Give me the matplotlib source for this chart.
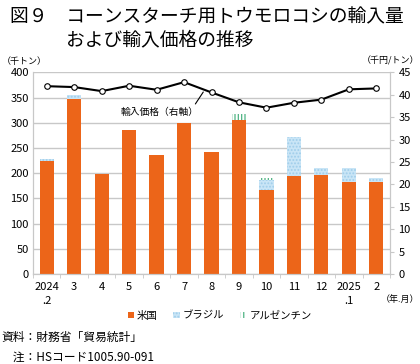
import numpy as np
import matplotlib.pyplot as plt
from matplotlib.patches import Patch

plt.rcParams['font.family'] = ['Noto Sans CJK JP', 'DejaVu Sans']
plt.rcParams['hatch.linewidth'] = 0.9

# データ（千トン、千円/トン）
months = ['2024\n.2', '3', '4', '5', '6', '7', '8', '9', '10', '11', '12', '2025\n.1', '2']
usa = [225, 348, 199, 286, 236, 300, 242, 305, 167, 195, 196, 183, 183]
brazil = [4, 6, 0, 0, 0, 0, 0, 0, 19, 77, 15, 27, 8]
argentina = [0, 0, 0, 0, 0, 0, 0, 13, 4, 0, 0, 0, 0]
price = [41.9, 41.7, 40.8, 42.0, 41.1, 42.8, 40.5, 38.3, 37.1, 38.2, 38.9, 41.2, 41.4]

orange = '#ec6519'
blue = '#c9e5f6'
blue_dot = '#9fcdea'
green = '#4fb383'
grid_c = '#c8c8c8'

fig = plt.figure(figsize=(4.2, 3.64), dpi=100)
ax = fig.add_axes([0.0786, 0.2473, 0.85, 0.5541])
ax2 = ax.twinx()

x = np.arange(len(months))
w = 0.52
usa = np.array(usa)
brazil = np.array(brazil)
argentina = np.array(argentina)

ax.bar(x, usa, w, color=orange, zorder=2)
ax.bar(x, brazil, w, bottom=usa, facecolor=blue, edgecolor=blue_dot,
       hatch='.....', linewidth=0, zorder=2)
ax.bar(x, argentina, w, bottom=usa + brazil, facecolor='white', edgecolor=green,
       hatch='|||||', linewidth=0, zorder=2)

ax.set_xlim(-0.5, len(months) - 0.5)
ax.set_ylim(0, 400)
ax.set_yticks(range(0, 401, 50))
ax.yaxis.grid(True, color=grid_c, linewidth=1)
ax.set_axisbelow(True)
ax.set_xticks(x)
ax.set_xticklabels(months, fontsize=8, linespacing=1.5)
ax.set_xticks(np.arange(-0.5, len(months), 1), minor=True)
ax.tick_params(axis='x', which='major', length=0, pad=6)
ax.tick_params(axis='x', which='minor', length=3, color=grid_c)
ax.tick_params(axis='y', length=0, labelsize=8, pad=3)

ax2.plot(x, price, color='black', linewidth=1.5, marker='o', markersize=4,
         markerfacecolor='white', markeredgecolor='black', markeredgewidth=0.8, zorder=5)
ax2.set_ylim(0, 45)
ax2.set_yticks(range(0, 46, 5))
ax2.tick_params(axis='y', length=3, color=grid_c, labelsize=8, pad=3)

for a in (ax, ax2):
    a.spines['top'].set_visible(False)
    for s in ('left', 'right', 'bottom'):
        a.spines[s].set_color(grid_c)

ax2.annotate('輸入価格（右軸）', xy=(5.7, 40.6), xytext=(4.1, 36.2),
             ha='center', va='center', fontsize=7,
             arrowprops=dict(arrowstyle='-', color='black', lw=0.8,
                             relpos=(0.93, 0.9), shrinkA=0, shrinkB=0))

fig.text(0.003, 0.832, '（千トン）', fontsize=6.5, va='center')
fig.text(0.998, 0.832, '（千円/トン）', fontsize=6.5, va='center', ha='right')
fig.text(0.998, 0.176, '（年.月）', fontsize=6.5, va='center', ha='right')

handles = [Patch(facecolor=orange, label='米国'),
           Patch(facecolor=blue, edgecolor=blue_dot, hatch='.....', linewidth=0, label='ブラジル'),
           Patch(facecolor='white', edgecolor=green, hatch='||||', linewidth=0, label='アルゼンチン')]
fig.legend(handles=handles, loc='center', bbox_to_anchor=(0.523, 0.133), ncol=3,
           frameon=False, fontsize=7.5, handlelength=0.6, handleheight=0.6,
           handletextpad=0.3, columnspacing=1.5)

fig.text(0.024, 0.953, '図９　コーンスターチ用トウモロコシの輸入量', fontsize=13.5, va='center')
fig.text(0.157, 0.89, 'および輸入価格の推移', fontsize=13.5, va='center')

fig.text(0.003, 0.072, '資料：財務省「貿易統計」', fontsize=8.5, va='center')
fig.text(0.003, 0.018, '　注：HSコード1005.90-091', fontsize=8.5, va='center')

fig.savefig('out.png', dpi=100)
